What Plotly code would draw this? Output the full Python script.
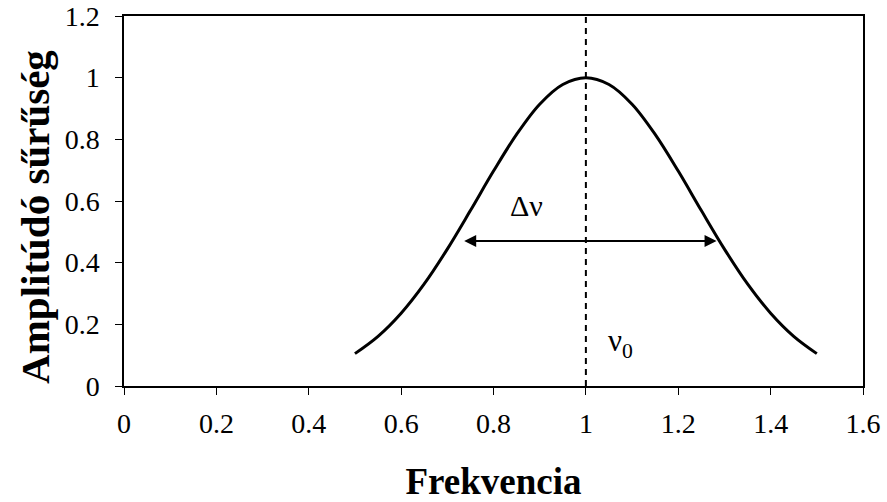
import plotly.graph_objects as go

freq = [0.50, 0.55, 0.60, 0.65, 0.70, 0.75, 0.80, 0.85, 0.90, 0.95, 1.00,
        1.05, 1.10, 1.15, 1.20, 1.25, 1.30, 1.35, 1.40, 1.45, 1.50]
amp = [0.105, 0.161, 0.236, 0.331, 0.444, 0.569, 0.697, 0.816, 0.914, 0.978, 1.000,
       0.978, 0.914, 0.816, 0.697, 0.569, 0.444, 0.331, 0.236, 0.161, 0.105]

center_freq = 1.0
arrow_x = [0.73, 1.283]
arrow_y = 0.47
x_ticks = [0, 0.2, 0.4, 0.6, 0.8, 1, 1.2, 1.4, 1.6]
x_ticktext = ["0", "0.2", "0.4", "0.6", "0.8", "1", "1.2", "1.4", "1.6"]
y_ticks = [0, 0.2, 0.4, 0.6, 0.8, 1, 1.2]
y_ticktext = ["0", "0.2", "0.4", "0.6", "0.8", "1", "1.2"]

FONT = "Liberation Serif, Times New Roman, serif"

fig = go.Figure()
fig.add_trace(go.Scatter(x=freq, y=amp, mode="lines",
                         line=dict(color="black", width=3, shape="spline"),
                         showlegend=False, hoverinfo="skip"))
fig.add_trace(go.Scatter(x=[center_freq, center_freq], y=[0, 1.2], mode="lines",
                         line=dict(color="black", width=2, dash="6px,5px"),
                         showlegend=False, hoverinfo="skip"))

fig.add_annotation(x=arrow_x[1], y=arrow_y, ax=arrow_x[0], ay=arrow_y,
                   xref="x", yref="y", axref="x", ayref="y", text=" ",
                   showarrow=True, arrowhead=2, startarrowhead=2,
                   arrowside="end+start", arrowsize=1.2, startarrowsize=1.2,
                   arrowwidth=2, arrowcolor="black")
fig.add_annotation(x=0.872, y=0.585, xref="x", yref="y", text="Δν",
                   showarrow=False, font=dict(family=FONT, size=30, color="black"))
fig.add_annotation(x=1.075, y=0.14, xref="x", yref="y",
                   text="ν<sub>0</sub>",
                   showarrow=False, font=dict(family=FONT, size=31, color="black"))
fig.add_annotation(x=-0.1204, y=0.457, xref="paper", yref="paper",
                   text="<b>Amplitúdó sűrűség</b>", textangle=-90,
                   xanchor="center", yanchor="middle", showarrow=False,
                   font=dict(family=FONT, size=41, color="black"))

fig.update_layout(
    width=887, height=502,
    margin=dict(l=124, r=24, t=16, b=116),
    paper_bgcolor="white", plot_bgcolor="white",
    font=dict(family=FONT, color="black"),
    xaxis=dict(range=[0, 1.6], tickvals=x_ticks, ticktext=x_ticktext,
               showgrid=False, zeroline=False, automargin=False,
               showline=True, linecolor="black", linewidth=1.5, mirror=True,
               ticks="outside", ticklen=7, tickwidth=1, tickcolor="black",
               ticklabelstandoff=5,
               tickfont=dict(family=FONT, size=28, color="black"),
               title=dict(text="<b>Frekvencia</b>", standoff=38,
                          font=dict(family=FONT, size=37, color="black"))),
    yaxis=dict(range=[0, 1.2], tickvals=y_ticks, ticktext=y_ticktext,
               showgrid=False, zeroline=False, automargin=False,
               showline=True, linecolor="black", linewidth=1.5, mirror=True,
               ticks="outside", ticklen=7, tickwidth=1, tickcolor="black",
               ticklabelstandoff=10,
               tickfont=dict(family=FONT, size=28, color="black")),
)

fig.write_html("out.html", post_script="document.body.style.margin='0';",
               config={"displayModeBar": False})
